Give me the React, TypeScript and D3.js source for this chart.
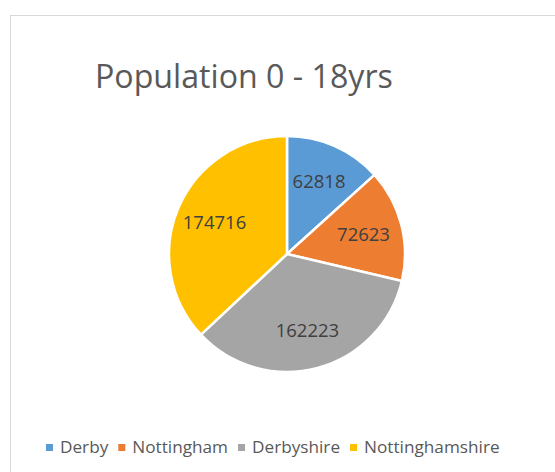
import React, { useEffect, useRef } from "react";
import * as d3 from "d3";

const categories = ["Derby", "Nottingham", "Derbyshire", "Nottinghamshire"];
const values = [62818, 72623, 162223, 174716];
const colors = ["#5B9BD5", "#ED7D31", "#A5A5A5", "#FFC000"];
const title = "Population 0 - 18yrs";

const W = 555;
const H = 472;

export default function App() {
  const ref = useRef<SVGSVGElement>(null);

  useEffect(() => {
    const svg = d3.select(ref.current);
    svg.selectAll("*").remove();
    const font = "'Open Sans', sans-serif";

    // chart border
    svg.append("rect")
      .attr("x", 10.5).attr("y", 15.5)
      .attr("width", 560).attr("height", 480)
      .attr("fill", "#fff").attr("stroke", "#D9D9D9").attr("stroke-width", 1);

    // title
    const tt = svg.append("text")
      .attr("x", 95).attr("y", 88)
      .attr("font-family", font).attr("font-size", 32.5)
      .attr("fill", "#595959")
      .text(title);
    const tw = (tt.node() as SVGTextElement).getComputedTextLength();
    if (tw > 0) tt.attr("font-size", 32.5 * (298 / tw));

    const cx = 287, cy = 254, r = 118;
    const data = categories.map((c, i) => ({ c, v: values[i], col: colors[i] }));
    const pie = d3.pie<any>().value((d) => d.v).sort(null);
    const arcs = pie(data);
    const arc = d3.arc<any>().innerRadius(0).outerRadius(r);
    const labelArc = d3.arc<any>().innerRadius(79).outerRadius(79);

    const g = svg.append("g").attr("transform", `translate(${cx},${cy})`);
    g.selectAll("path").data(arcs).enter().append("path")
      .attr("d", arc as any)
      .attr("fill", (d: any) => d.data.col)
      .attr("stroke", "#fff").attr("stroke-width", 2.5)
      .attr("stroke-linejoin", "round");

    g.selectAll("text.lbl").data(arcs).enter().append("text")
      .attr("class", "lbl")
      .attr("transform", (d: any) => {
        const [x, y] = labelArc.centroid(d);
        return `translate(${x},${y})`;
      })
      .attr("text-anchor", "middle")
      .attr("dy", "0.36em")
      .attr("font-family", font).attr("font-size", 18.5)
      .attr("fill", "#404040")
      .text((d: any) => String(d.data.v));

    // legend: measure text widths, fit between x=46 and x=500
    const ly = 453;
    const startX = 46, endX = 500;
    const probe = svg.append("text")
      .attr("font-family", font).attr("font-size", 17.5);
    let textTotal = 0;
    categories.forEach((c) => {
      probe.text(c);
      textTotal += (probe.node() as SVGTextElement).getComputedTextLength();
    });
    probe.remove();
    const fixed = categories.length * 14 + (categories.length - 1) * 10;
    const fs = 17.5 * ((endX - startX - fixed) / textTotal);

    const lg = svg.append("g");
    let x = startX;
    categories.forEach((c, i) => {
      lg.append("rect")
        .attr("x", x).attr("y", ly - 9)
        .attr("width", 7).attr("height", 7)
        .attr("fill", colors[i]);
      const t = lg.append("text")
        .attr("x", x + 14).attr("y", ly)
        .attr("font-family", font).attr("font-size", fs)
        .attr("fill", "#595959")
        .text(c);
      const w = (t.node() as SVGTextElement).getComputedTextLength();
      x = x + 14 + w + 10;
    });
  }, []);

  return (
    <svg
      ref={ref}
      width={W}
      height={H}
      style={{ position: "absolute", left: 0, top: 0, background: "#fff" }}
    />
  );
}
